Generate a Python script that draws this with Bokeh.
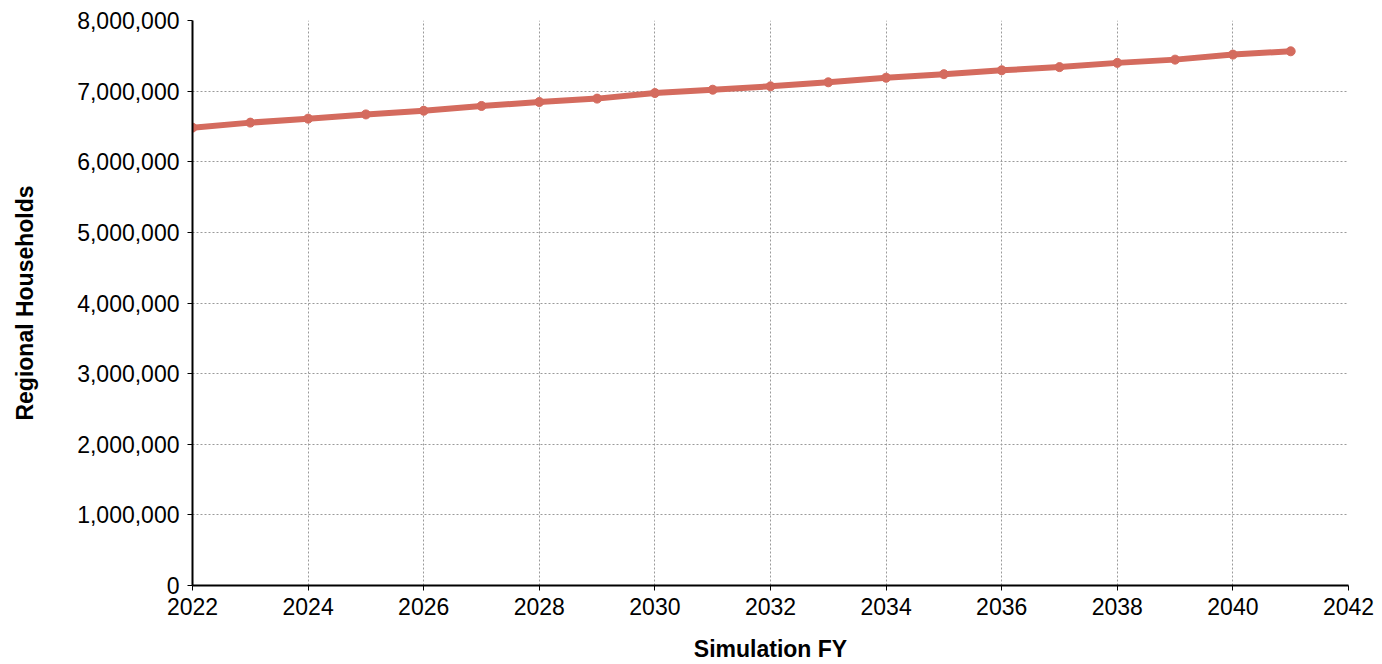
from bokeh.plotting import figure
from bokeh.embed import file_html
from bokeh.resources import INLINE
from bokeh.models import Range1d, NumeralTickFormatter, SingleIntervalTicker

years = [2022, 2023, 2024, 2025, 2026, 2027, 2028, 2029, 2030, 2031,
         2032, 2033, 2034, 2035, 2036, 2037, 2038, 2039, 2040, 2041]
households = [6483000, 6554000, 6610000, 6670000, 6722000, 6790000, 6846000,
              6894000, 6973000, 7020000, 7068000, 7125000, 7190000, 7240000,
              7295000, 7340000, 7400000, 7446000, 7517000, 7564000]

x_title = "Simulation FY"
y_title = "Regional Households"
color = "#d46b5e"
font = "Liberation Sans"

p = figure(frame_width=1156, frame_height=565,
           min_border_left=192, min_border_top=20, min_border_right=26, min_border_bottom=71,
           x_range=Range1d(2022, 2042), y_range=Range1d(0, 8000000),
           output_backend="svg", toolbar_location=None)
p.outline_line_color = None

p.line(years, households, line_color=color, line_width=6)
p.scatter(years, households, size=9, fill_color=color, line_color=color)

p.xaxis.ticker = SingleIntervalTicker(interval=2, num_minor_ticks=0)
p.yaxis.ticker = SingleIntervalTicker(interval=1000000, num_minor_ticks=0)
p.yaxis.formatter = NumeralTickFormatter(format="0,0")

for ax in (p.xaxis, p.yaxis):
    ax.axis_line_color = "black"
    ax.axis_line_width = 2
    ax.major_tick_line_color = "black"
    ax.major_tick_line_width = 1
    ax.major_tick_out = 5
    ax.major_tick_in = 0
    ax.minor_tick_line_color = None
    ax.major_label_text_font = font
    ax.major_label_text_font_size = "23px"
    ax.major_label_text_color = "black"
    ax.axis_label_text_font = font
    ax.axis_label_text_font_size = "23px"
    ax.axis_label_text_font_style = "bold"
    ax.axis_label_text_color = "black"

p.xaxis.axis_label = x_title
p.yaxis.axis_label = y_title
p.xaxis.major_label_standoff = 7
p.yaxis.major_label_standoff = 8
p.xaxis.axis_label_standoff = 18
p.yaxis.axis_label_standoff = 36

for g in (p.xgrid, p.ygrid):
    g.grid_line_color = "#9a9a9a"
    g.grid_line_dash = "2 2"
    g.grid_line_width = 1

open("out.html", "w").write(file_html(p, INLINE))
